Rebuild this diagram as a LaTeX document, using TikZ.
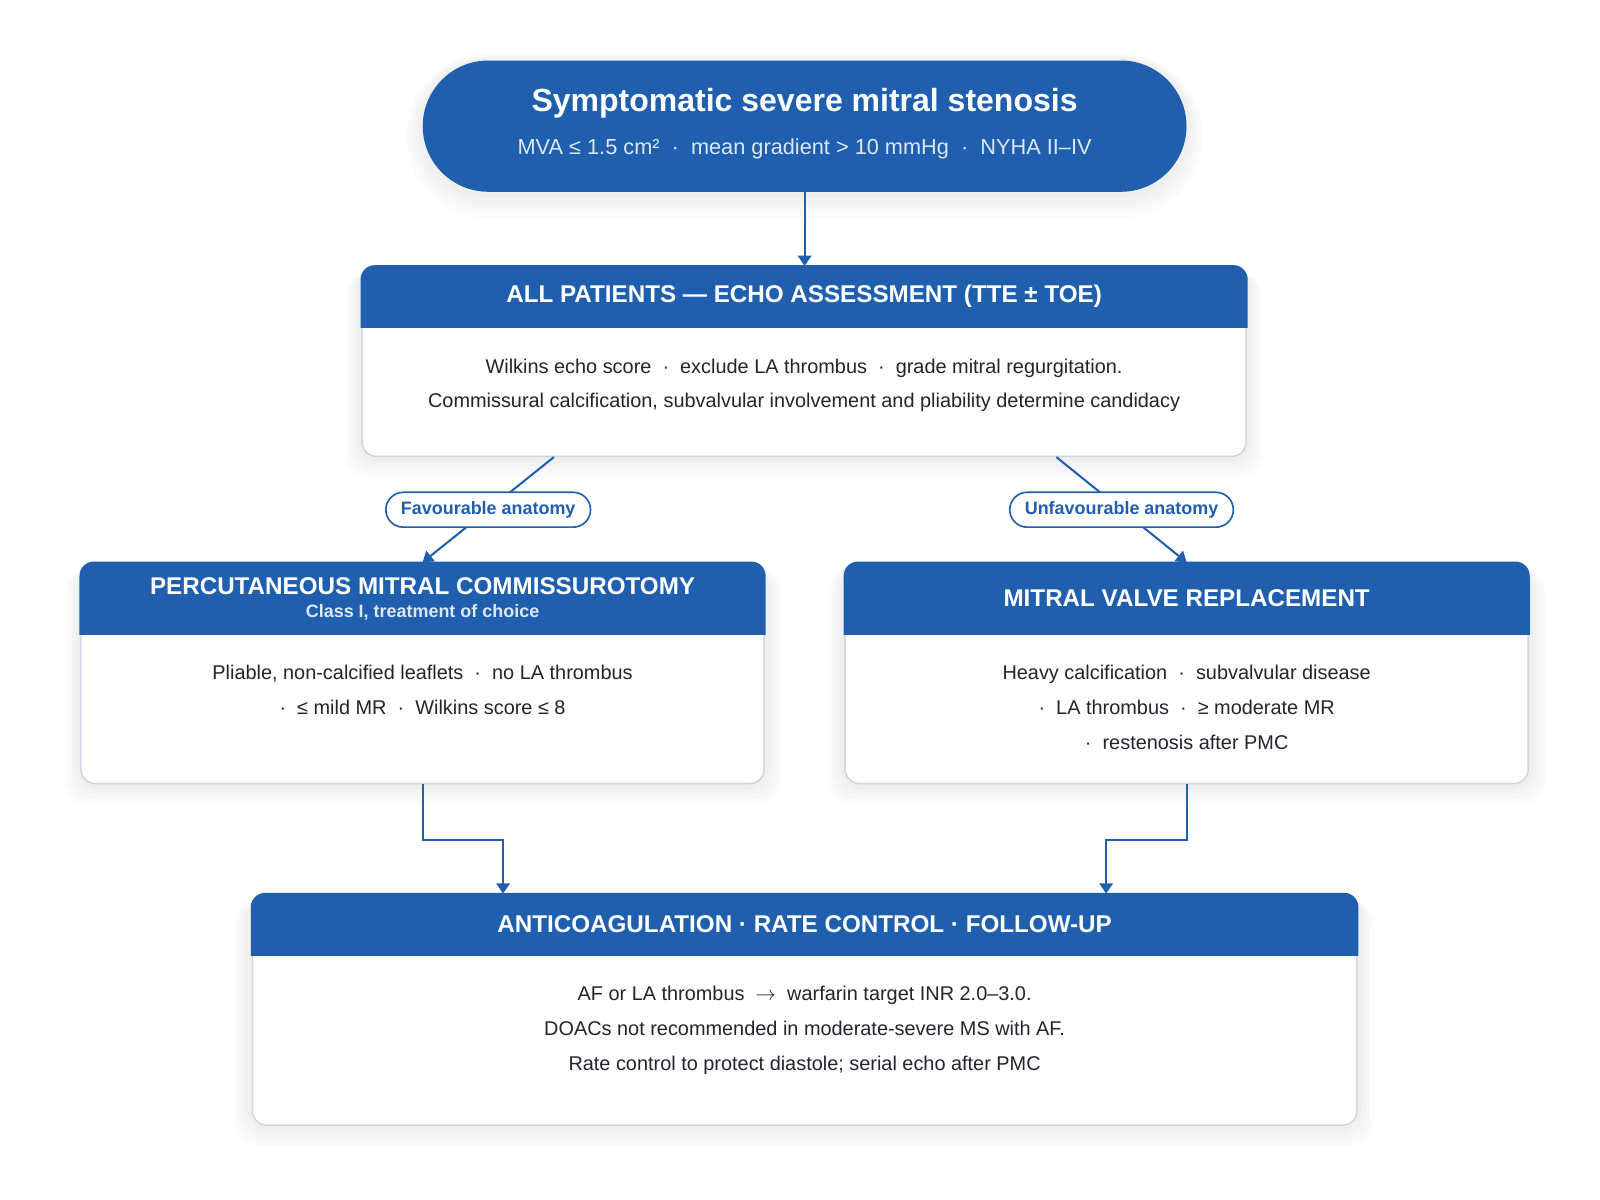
\documentclass[tikz,border=0pt]{standalone}
\usepackage{fontspec}
\setmainfont{Liberation Sans}
\usetikzlibrary{arrows.meta, positioning, shapes.misc}

\definecolor{mvblue}{RGB}{31,95,174}
\definecolor{mvedge}{RGB}{203,214,230}
\definecolor{mvink}{RGB}{33,37,47}
\definecolor{mvpale}{RGB}{220,231,247}

\pgfdeclarelayer{background}
\pgfsetlayers{background,main}

\tikzset{
  card/.style={draw=mvedge, line width=0.7pt, fill=white, rounded corners=7pt, inner sep=0pt},
  haze/.style={fill=black, opacity=0.016, rounded corners=11pt},
  headtext/.style={text=white, font=\bfseries\fontsize{11.8}{13}\selectfont},
  bodytext/.style={text=mvink, align=center, inner sep=0pt, anchor=north, font=\fontsize{9.7}{17}\selectfont},
  conn/.style={draw=mvblue, line width=1pt, -{Triangle[width=6.5pt,length=5pt]}},
  choice/.style={rounded rectangle, draw=mvblue, line width=0.8pt, fill=white, text=mvblue,
    font=\bfseries\fontsize{8.75}{10}\selectfont, minimum height=17pt, inner xsep=6.3pt, inner ysep=0pt},
}

\begin{document}
\begin{tikzpicture}[x=0.5pt, y=-0.5pt]
\useasboundingbox (0,0) rectangle (1560,1170);

% entry pill
\node[rounded rectangle, fill=mvblue, minimum width=379pt, minimum height=64pt] (ms) at (784.5,123) {};
\node[text=white, font=\bfseries\fontsize{15.6}{17}\selectfont] (ms-t) at (784.5,101) {Symptomatic severe mitral stenosis};
\node[text=mvpale, font=\fontsize{10.6}{12}\selectfont] (ms-s) at (784.5,145) {MVA ≤ 1.5 cm²~~·~~mean gradient > 10 mmHg~~·~~NYHA II–IV};

% cards
\node[card, minimum width=431pt, minimum height=92.5pt] (echo) at (784,352.5) {};
\node[card, minimum width=333pt, minimum height=107.5pt] (pmc) at (412,656.5) {};
\node[card, minimum width=333pt, minimum height=107.5pt] (mvr) at (1157,656.5) {};
\node[card, minimum width=538.5pt, minimum height=112.5pt] (ant) at (784.5,984.5) {};

% page and soft shadows
\begin{pgfonlayer}{background}
  \fill[white] (0,0) rectangle (1560,1170);
  \foreach \cardname in {echo, pmc, mvr, ant}{
    \foreach \s in {2,4,6,8}{
      \fill[haze] ([shift={(-\s pt,-0.5*\s pt)}]\cardname.north west) rectangle ([shift={(\s pt,-1.2*\s pt)}]\cardname.south east);
    }
  }
  \foreach \s in {2,4,6,8}{
    \node[rounded rectangle, fill=black, opacity=0.016, minimum width=379pt+2*\s pt, minimum height=64pt+2*\s pt] at ([yshift=-0.6*\s pt]ms.center) {};
  }
\end{pgfonlayer}

% header bands
\foreach \cardname/\h in {echo/30pt, pmc/35pt, mvr/35pt, ant/30pt}{
  \begin{scope}
    \clip ([shift={(-1pt,1pt)}]\cardname.north west) rectangle ([shift={(1pt,-\h)}]\cardname.north east);
    \fill[mvblue, rounded corners=7pt] ([shift={(-0.4pt,0.4pt)}]\cardname.north west) rectangle ([shift={(0.4pt,-0.4pt)}]\cardname.south east);
  \end{scope}
}

\node[headtext] (echo-t) at ([yshift=-15pt]echo.north) {ALL PATIENTS — ECHO ASSESSMENT (TTE ± TOE)};
\node[headtext] (pmc-t) at (412,572) {PERCUTANEOUS MITRAL COMMISSUROTOMY};
\node[text=mvpale, font=\bfseries\fontsize{8.75}{10}\selectfont] (pmc-s) at (412,597) {Class I, treatment of choice};
\node[headtext] (mvr-t) at ([yshift=-17.5pt]mvr.north) {MITRAL VALVE REPLACEMENT};
\node[headtext] (ant-t) at ([yshift=-15pt]ant.north) {ANTICOAGULATION · RATE CONTROL · FOLLOW-UP};

% card bodies
\node[bodytext] (echo-b) at ([yshift=-45pt]echo.north) {Wilkins echo score~~·~~exclude LA thrombus~~·~~grade mitral regurgitation.\\Commissural calcification, subvalvular involvement and pliability determine candidacy};
\node[bodytext] (pmc-b) at ([yshift=-50pt]pmc.north) {Pliable, non-calcified leaflets~~·~~no LA thrombus\\·~~≤ mild MR~~·~~Wilkins score ≤ 8};
\node[bodytext] (mvr-b) at ([yshift=-50pt]mvr.north) {Heavy calcification~~·~~subvalvular disease\\·~~LA thrombus~~·~~≥ moderate MR\\·~~restenosis after PMC};
\node[bodytext] (ant-b) at ([yshift=-45pt]ant.north) {AF or LA thrombus~~$\rightarrow$~~warfarin target INR 2.0–3.0.\\DOACs not recommended in moderate-severe MS with AF.\\Rate control to protect diastole; serial echo after PMC};

% connectors
\draw[conn] (ms.south) -- (ms.south |- echo.north);
\draw[conn] ([xshift=-122pt]echo.south) -- (pmc.north) node[choice, pos=0.5] (fav) {Favourable anatomy};
\draw[conn] ([xshift=123pt]echo.south) -- (mvr.north) node[choice, pos=0.5] (unfav) {Unfavourable anatomy};
\draw[conn] (pmc.south) -- ++(0,54) -| ([xshift=-147pt]ant.north);
\draw[conn] (mvr.south) -- ++(0,54) -| ([xshift=147pt]ant.north);

\end{tikzpicture}
\end{document}
